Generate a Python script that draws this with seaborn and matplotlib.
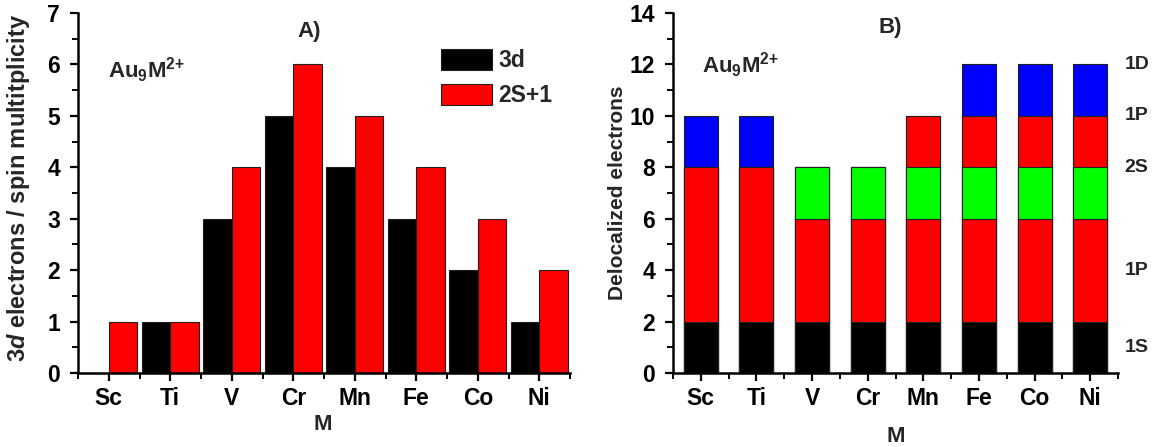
import matplotlib
matplotlib.use("Agg")
import matplotlib.pyplot as plt
from matplotlib.ticker import MultipleLocator, FixedLocator
import numpy as np
import pandas as pd
import seaborn as sns

# Metals M in the Au9M(2+) clusters
metals = ["Sc", "Ti", "V", "Cr", "Mn", "Fe", "Co", "Ni"]

# Panel A: number of 3d electrons and spin multiplicity 2S+1
d_electrons = [0, 1, 3, 5, 4, 3, 2, 1]
multiplicity = [1, 1, 4, 6, 5, 4, 3, 2]

# Panel B: delocalized electrons per shell (stacked bottom to top)
shell_1s = [2, 2, 2, 2, 2, 2, 2, 2]
shell_1p = [6, 6, 4, 4, 4, 4, 4, 4]
shell_2s = [0, 0, 2, 2, 2, 2, 2, 2]
shell_1p_upper = [0, 0, 0, 0, 2, 2, 2, 2]
shell_1d = [2, 2, 0, 0, 0, 2, 2, 2]

# Shell labels on the right of panel B and the level they sit at
shell_names = ["1D", "1P", "2S", "1P", "1S"]
shell_label_levels = [12, 10, 8, 4, 1]

sns.set_style("ticks")
plt.rcParams["font.family"] = ["Liberation Sans", "DejaVu Sans"]
plt.rcParams["font.weight"] = "bold"
plt.rcParams["axes.labelweight"] = "bold"
plt.rcParams["mathtext.fontset"] = "custom"
plt.rcParams["mathtext.rm"] = "Liberation Sans:bold"
plt.rcParams["mathtext.it"] = "Liberation Sans:italic:bold"
plt.rcParams["mathtext.bf"] = "Liberation Sans:bold"

FS_TICK = 16.5
FS_AXLABEL = 16
FS_TEXT = 16
EDGE = "#202020"
CLUSTER = r"Au$_{9}$M$^{2{+}}$"

fig = plt.figure(figsize=(11.52, 4.47), dpi=100)
W, H = 1152, 447
axA = fig.add_axes([78 / W, (H - 373) / H, 492 / W, 360 / H])
axB = fig.add_axes([673 / W, (H - 373) / H, 445 / W, 360 / H])


def style_axis(ax, ymax, ymajor, yminor):
    for side in ("top", "right"):
        ax.spines[side].set_visible(False)
    for side in ("left", "bottom"):
        ax.spines[side].set_linewidth(1.8)
        ax.spines[side].set_color("black")
    ax.set_xlim(-0.5, 7.5)
    ax.set_ylim(0, ymax)
    ax.yaxis.set_major_locator(MultipleLocator(ymajor))
    ax.yaxis.set_minor_locator(MultipleLocator(yminor))
    ax.xaxis.set_minor_locator(FixedLocator(np.arange(-0.5, 8.0, 1.0)))
    ax.tick_params(axis="both", which="major", direction="out", length=6,
                   width=1.6, labelsize=FS_TICK, colors="black", pad=4)
    ax.tick_params(axis="y", which="major", pad=7)
    ax.tick_params(axis="both", which="minor", direction="out", length=4,
                   width=1.4, colors="black")
    for lab in ax.get_xticklabels() + ax.get_yticklabels():
        lab.set_fontweight("bold")


# ---- Panel A: grouped bars ----
dfA = pd.DataFrame({
    "M": metals * 2,
    "value": d_electrons + multiplicity,
    "series": ["3d"] * len(metals) + ["2S+1"] * len(metals),
})
sns.barplot(data=dfA, x="M", y="value", hue="series", order=metals,
            hue_order=["3d", "2S+1"], palette=["black", "#ff0000"],
            width=0.92, gap=0, edgecolor=EDGE, linewidth=0.8,
            errorbar=None, saturation=1, ax=axA)
style_axis(axA, 7, 1, 0.5)
axA.set_xlabel("M", fontsize=FS_AXLABEL, fontweight="bold")
axA.set_ylabel(r"3$\mathit{d}$ electrons / spin multitplicity",
               fontsize=17, fontweight="bold")
axA.xaxis.set_label_coords(0.498, -0.115)
axA.yaxis.set_label_coords(-0.093, 0.515)
axA.text(0.47, 0.95, "A)", transform=axA.transAxes, fontsize=FS_AXLABEL,
         fontweight="bold", ha="center", va="center")
axA.text(0.06, 0.84, CLUSTER, transform=axA.transAxes,
         fontsize=FS_TEXT, fontweight="bold", ha="left", va="center")
axA.legend(loc="upper left", bbox_to_anchor=(0.738, 0.9), frameon=False,
           borderpad=0, borderaxespad=0, handlelength=2.2, handleheight=1.05,
           handletextpad=0.3, labelspacing=0.5,
           prop={"size": 16.5, "weight": "bold"})

# ---- Panel B: stacked bars, drawn tallest first ----
layers = [shell_1s, shell_1p, shell_2s, shell_1p_upper, shell_1d]
layer_colors = ["black", "#ff0000", "#00ff00", "#ff0000", "#0000ff"]
tops = np.cumsum(np.array(layers), axis=0)
for top, color in reversed(list(zip(tops, layer_colors))):
    dfB = pd.DataFrame({"M": metals, "value": top})
    sns.barplot(data=dfB, x="M", y="value", order=metals, color=color,
                width=0.61, edgecolor=EDGE, linewidth=0.8, errorbar=None,
                saturation=1, ax=axB)
style_axis(axB, 14, 2, 1)
axB.set_xlabel("M", fontsize=FS_AXLABEL, fontweight="bold")
axB.set_ylabel("Delocalized electrons", fontsize=15, fontweight="bold")
axB.xaxis.set_label_coords(0.5, -0.148)
axB.yaxis.set_label_coords(-0.103, 0.5)
axB.text(0.488, 0.961, "B)", transform=axB.transAxes, fontsize=FS_AXLABEL,
         fontweight="bold", ha="center", va="center")
axB.text(0.065, 0.855, CLUSTER, transform=axB.transAxes,
         fontsize=FS_TEXT, fontweight="bold", ha="left", va="center")
for name, level in zip(shell_names, shell_label_levels):
    axB.text(7.62, level, name, fontsize=14, fontweight="bold",
             ha="left", va="center", clip_on=False)

fig.savefig("out.png", dpi=100)
